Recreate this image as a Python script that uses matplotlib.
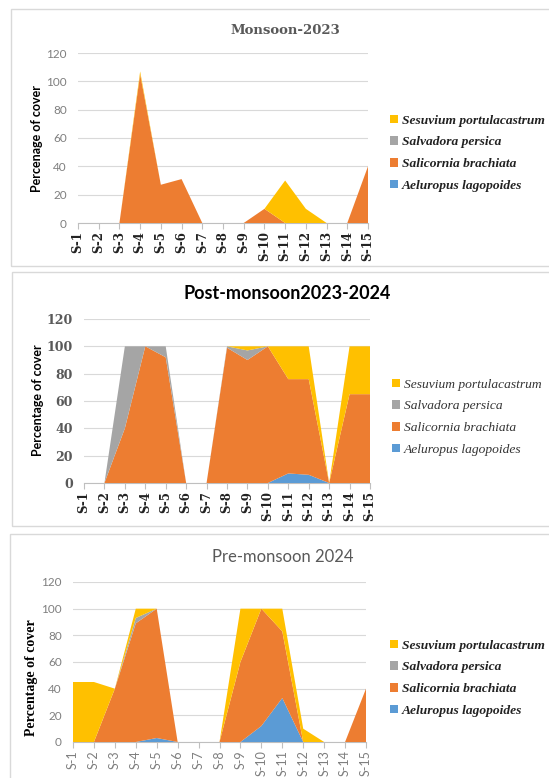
import matplotlib.pyplot as plt
from matplotlib.patches import Patch, Rectangle

W, H = 549, 778

sites = ["S-1", "S-2", "S-3", "S-4", "S-5", "S-6", "S-7", "S-8",
         "S-9", "S-10", "S-11", "S-12", "S-13", "S-14", "S-15"]
species = ["Aeluropus lagopoides", "Salicornia brachiata",
           "Salvadora persica", "Sesuvium portulacastrum"]
colors = ["#5B9BD5", "#ED7D31", "#A5A5A5", "#FFC000"]
yticks = [0, 20, 40, 60, 80, 100, 120]

# Monsoon-2023
mon_aeluropus = [0, 0, 0, 0, 0, 0, 0, 0, 0, 0, 0, 0, 0, 0, 0]
mon_salicornia = [0, 0, 0, 105, 27, 31, 0, 0, 0, 10, 0, 0, 0, 0, 40]
mon_salvadora = [0, 0, 0, 0, 0, 0, 0, 0, 0, 0, 0, 0, 0, 0, 0]
mon_sesuvium = [0, 0, 0, 2, 0, 0, 0, 0, 0, 0, 30, 10, 0, 0, 0]

# Post-monsoon 2023-2024
post_aeluropus = [0, 0, 0, 0, 0, 0, 0, 0, 0, 0, 7, 6, 0, 0, 0]
post_salicornia = [0, 0, 40, 100, 92, 0, 0, 99, 90, 100, 69, 70, 0, 65, 65]
post_salvadora = [0, 0, 60, 0, 8, 0, 0, 1, 7, 0, 0, 0, 0, 0, 0]
post_sesuvium = [0, 0, 0, 0, 0, 0, 0, 0, 3, 0, 24, 24, 0, 35, 35]

# Pre-monsoon 2024
pre_aeluropus = [0, 0, 0, 0, 3, 0, 0, 0, 0, 12, 33, 0, 0, 0, 0]
pre_salicornia = [0, 0, 40, 89, 97, 0, 0, 0, 60, 88, 50, 0, 0, 0, 40]
pre_salvadora = [0, 0, 0, 4, 0, 0, 0, 0, 0, 0, 0, 0, 0, 0, 0]
pre_sesuvium = [45, 45, 0, 7, 0, 0, 0, 0, 40, 0, 17, 10, 0, 0, 0]


def px_axes(left, right, y0, y120):
    # pixel box (from top-left) -> figure fraction rect
    return [left / W, (H - y0) / H, (right - left) / W, (y0 - y120) / H]


def fx(x):
    return x / W


def fy(y):
    return (H - y) / H


fig = plt.figure(figsize=(W / 100, H / 100), dpi=100)

# panel frames
for (x0, y0, y1) in [(11, 9, 266), (12, 272, 526), (10, 534, 800)]:
    fig.patches.append(Rectangle((fx(x0), fy(y1)), 1.2, fy(y0) - fy(y1),
                                 transform=fig.transFigure, fill=False,
                                 edgecolor="#d9d9d9", linewidth=1.0))

panels = [
    dict(data=[mon_aeluropus, mon_salicornia, mon_salvadora, mon_sesuvium],
         rect=px_axes(78, 368, 223, 53),
         title="Monsoon-2023", title_xy=(285, 30),
         title_font=dict(family="DejaVu Serif", weight="bold", size=9.5, color="#595959"),
         ylabel="Percenage of cover", ylabel_xy=(37, 138),
         ylabel_font=dict(family="Lato", weight="bold", size=9, color="black"),
         ytick_font=dict(family="Lato", size=8.5, color="#7f7f7f"),
         xtick_font=dict(family="DejaVu Serif", weight="bold", size=8.5, color="#222222"),
         legend_font=dict(family="Liberation Serif", weight="bold", style="italic", size=9.7),
         legend_xy=(383, 108), legend_color="#222222"),
    dict(data=[post_aeluropus, post_salicornia, post_salvadora, post_sesuvium],
         rect=px_axes(84, 370, 483, 319),
         title="Post-monsoon2023-2024", title_xy=(287, 294),
         title_font=dict(family="Lato", weight="bold", size=13, color="black"),
         ylabel="Percentage of cover", ylabel_xy=(38, 400),
         ylabel_font=dict(family="Lato", weight="bold", size=9, color="black"),
         ytick_font=dict(family="DejaVu Serif", weight="bold", size=9, color="#595959"),
         xtick_font=dict(family="DejaVu Serif", weight="bold", size=8.5, color="#222222"),
         legend_font=dict(family="Liberation Serif", style="italic", size=9.7),
         legend_xy=(385, 372), legend_color="#333333"),
    dict(data=[pre_aeluropus, pre_salicornia, pre_salvadora, pre_sesuvium],
         rect=px_axes(73, 366, 742, 582),
         title="Pre-monsoon 2024", title_xy=(283, 557),
         title_font=dict(family="Lato", size=12, color="#595959"),
         ylabel="Percentage of cover", ylabel_xy=(31, 678),
         ylabel_font=dict(family="Liberation Serif", weight="bold", size=10, color="black"),
         ytick_font=dict(family="Lato", size=8.5, color="#7f7f7f"),
         xtick_font=dict(family="Lato", size=9, color="#7f7f7f"),
         legend_font=dict(family="Liberation Serif", weight="bold", style="italic", size=9.7),
         legend_xy=(383, 633), legend_color="#222222"),
]

x = list(range(len(sites)))

for p in panels:
    ax = fig.add_axes(p["rect"])
    ax.stackplot(x, *p["data"], colors=colors, linewidth=0)
    ax.set_xlim(0, len(sites) - 1)
    ax.set_ylim(0, 120)
    ax.set_yticks(yticks)
    ax.grid(axis="y", color="#d9d9d9", linewidth=0.8)
    ax.set_axisbelow(True)
    for s in ["top", "right", "left"]:
        ax.spines[s].set_visible(False)
    ax.spines["bottom"].set_color("#bfbfbf")
    ax.spines["bottom"].set_linewidth(0.8)
    ax.spines["bottom"].set_zorder(0.5)
    ax.set_xticks(x)
    ax.set_xticklabels(sites, rotation=90, **p["xtick_font"])
    ax.tick_params(axis="x", length=4, color="#bfbfbf", width=0.8, pad=2)
    ax.tick_params(axis="y", length=0, pad=8)
    for lab in ax.get_yticklabels():
        lab.set(**p["ytick_font"])

    fig.text(fx(p["title_xy"][0]), fy(p["title_xy"][1]), p["title"],
             ha="center", va="center", **p["title_font"])
    fig.text(fx(p["ylabel_xy"][0]), fy(p["ylabel_xy"][1]), p["ylabel"],
             ha="center", va="center", rotation=90, **p["ylabel_font"])

    handles = [Patch(facecolor=c, edgecolor="none") for c in colors][::-1]
    leg = fig.legend(handles, species[::-1], loc="upper left",
                     bbox_to_anchor=(fx(p["legend_xy"][0]), fy(p["legend_xy"][1])),
                     frameon=False, handlelength=0.6, handleheight=0.6,
                     handletextpad=0.3, labelspacing=0.72, borderpad=0,
                     prop=dict(**p["legend_font"]))
    for t in leg.get_texts():
        t.set_color(p["legend_color"])

fig.savefig("out.png", dpi=100)
